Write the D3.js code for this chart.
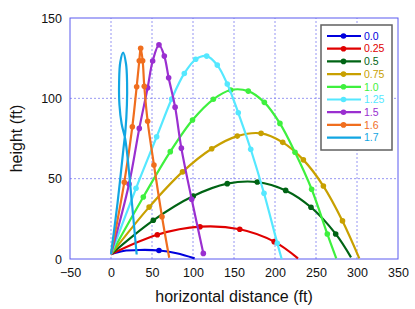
<!DOCTYPE html>
<html>
<head>
<meta charset="utf-8">
<title>trajectories</title>
<script src="https://cdn.jsdelivr.net/npm/d3@7"></script>
<style>
  body { margin: 0; background: #fff; }
  text { font-family: "Liberation Sans", Arial, sans-serif; }
</style>
</head>
<body>
<svg width="415" height="309"></svg>
<script>
// legend labels (spin values)
const labels = ["0.0", "0.25", "0.5", "0.75", "1.0", "1.25", "1.5", "1.6", "1.7"];
const colors = ["#0000dd", "#e00000", "#006414", "#c8a000", "#3ef03e", "#55e8ff", "#9a2fd0", "#f06e1e", "#12a6e2"];

// [x, y, m]  m = 1 -> sample marker
const t00  = [[0,3,0],[15,5,0],[35,5.6,0],[58.5,5.3,1],[80,3.6,0],[102,0.4,0]];
const t025 = [[0,3,0],[56.5,15.1,1],[108.5,20.1,1],[157,18.5,1],[199,10.8,1],[228,0.4,0]];
const t05  = [[0,3,0],[51.6,24.1,1],[100.4,39.2,1],[141.8,46.9,1],[178.4,47.9,1],[213,42.7,1],[243.9,32.2,1],[274,15.6,1],[292.7,1,0]];
const t075 = [[0,3,0],[46.5,32.3,1],[87.2,54.2,1],[122.8,68.6,1],[154,76.5,1],[183,78.2,1],[209.4,72.6,1],[234.6,61.7,1],[259,45.4,1],[282.3,23.7,1],[302.8,0.4,0]];
const t10  = [[0,3,0],[39.4,38.6,1],[72.3,66.8,1],[99.4,86.5,1],[124.8,99.4,1],[146,105.2,1],[167.4,104.5,1],[187,97.5,1],[206,84.4,1],[224.4,66.4,1],[244.7,43.4,1],[263.8,15.6,1],[274.7,0.4,0]];
const t125 = [[0,3,0],[30.5,44,1],[55.7,76.1,1],[74,99.6,1],[89.4,115.5,1],[103.3,124.3,1],[116.7,126.3,1],[129.6,120.7,1],[141.8,108.9,1],[155.2,91,1],[170.4,68.3,1],[186.6,40.9,1],[202.8,9.8,1],[208.2,0,0]];
const t15  = [[0,3,0],[22,46.7,1],[34.5,81.3,1],[44.7,106.6,1],[50.8,123.2,1],[58.5,133.3,1],[65,126.3,1],[70.3,112.8,1],[78.2,94.5,1],[85.8,69,1],[98.4,37.2,1],[112.6,3.5,1]];
const t16  = [[0,3,0],[16.2,47.7,1],[26,82.3,1],[31.3,107.2,1],[34.5,123.4,1],[36.2,131.1,1],[38.6,123.4,1],[40.6,107.5,1],[44.7,85.7,1],[52.4,58.5,1],[62.2,26.3,1],[71,0.8,0]];
const t17  = [[0,3,0],[8,35,0],[15,67.8,0],[17.6,80,0],[19.4,96,0],[19.6,110,0],[18.3,121.5,0],[14.8,128.4,0],[11.3,122.5,0],[9.9,110,0],[10.3,96,0],[13,84,0],[17.2,75,0],[19.6,66,0],[25.5,35,0],[31.3,2.8,0]];
const tracks = [t00, t025, t05, t075, t10, t125, t15, t16, t17];

const xTicks = [-50, 0, 50, 100, 150, 200, 250, 300, 350];
const yTicks = [0, 50, 100, 150];

const W = 415, H = 309;
const m = {left: 70, right: 17, top: 18, bottom: 50};
const svg = d3.select("svg");

const x = d3.scaleLinear().domain([-50, 350]).range([m.left, W - m.right]);
const y = d3.scaleLinear().domain([0, 150]).range([H - m.bottom, m.top]);

// grid
const grid = svg.append("g").attr("stroke", "#7c7cf0").attr("stroke-width", 0.8).attr("stroke-dasharray", "2,2");
grid.selectAll(".gx").data(xTicks.slice(1, -1)).enter().append("line")
  .attr("x1", d => x(d)).attr("x2", d => x(d)).attr("y1", y(0)).attr("y2", y(150));
grid.selectAll(".gy").data(yTicks.slice(1, -1)).enter().append("line")
  .attr("x1", x(-50)).attr("x2", x(350)).attr("y1", d => y(d)).attr("y2", d => y(d));

// axes (labels only), frame drawn separately
const xAxis = svg.append("g").attr("transform", "translate(0," + y(0) + ")")
  .call(d3.axisBottom(x).tickValues(xTicks).tickSize(0).tickPadding(9));
const yAxis = svg.append("g").attr("transform", "translate(" + x(-50) + ",0)")
  .call(d3.axisLeft(y).tickValues(yTicks).tickSize(0).tickPadding(8));
[xAxis, yAxis].forEach(a => {
  a.select(".domain").remove();
  a.selectAll("text").attr("font-size", 12.5).attr("fill", "#111")
    .style("font-family", "'Liberation Sans', Arial, sans-serif");
});

svg.append("rect").attr("x", x(-50)).attr("y", y(150))
  .attr("width", x(350) - x(-50)).attr("height", y(0) - y(150))
  .attr("fill", "none").attr("stroke", "#5a5af0").attr("stroke-width", 1);

svg.append("text").attr("x", (x(-50) + x(350)) / 2).attr("y", 302)
  .attr("text-anchor", "middle").attr("font-size", 16).attr("fill", "#111")
  .text("horizontal distance (ft)");
svg.append("text").attr("transform", "translate(22," + (y(75)) + ") rotate(-90)")
  .attr("text-anchor", "middle").attr("font-size", 16).attr("fill", "#111")
  .text("height (ft)");

// trajectories
const line = d3.line().x(d => x(d[0])).y(d => y(d[1])).curve(d3.curveCatmullRom.alpha(0.5));
const plot = svg.append("g");
tracks.forEach((tr, i) => {
  plot.append("path").datum(tr).attr("d", line)
    .attr("fill", "none").attr("stroke", colors[i]).attr("stroke-width", 2.2);
  plot.selectAll(null).data(tr.filter(d => d[2] === 1)).enter().append("circle")
    .attr("cx", d => x(d[0])).attr("cy", d => y(d[1])).attr("r", 2.8)
    .attr("fill", colors[i]);
});

// legend
const lg = svg.append("g");
lg.append("rect").attr("x", 321).attr("y", 25).attr("width", 71).attr("height", 125)
  .attr("fill", "#fff").attr("stroke", "#606060").attr("stroke-width", 1.5);
labels.forEach((lab, i) => {
  const ly = 36 + i * 12.7;
  lg.append("line").attr("x1", 327).attr("x2", 361).attr("y1", ly).attr("y2", ly)
    .attr("stroke", colors[i]).attr("stroke-width", 2.2);
  if (i < labels.length - 1)
    lg.append("circle").attr("cx", 343.5).attr("cy", ly).attr("r", 2.8).attr("fill", colors[i]);
  lg.append("text").attr("x", 364).attr("y", ly + 3.7).attr("font-size", 10.5)
    .attr("fill", colors[i]).text(lab);
});
</script>
</body>
</html>
